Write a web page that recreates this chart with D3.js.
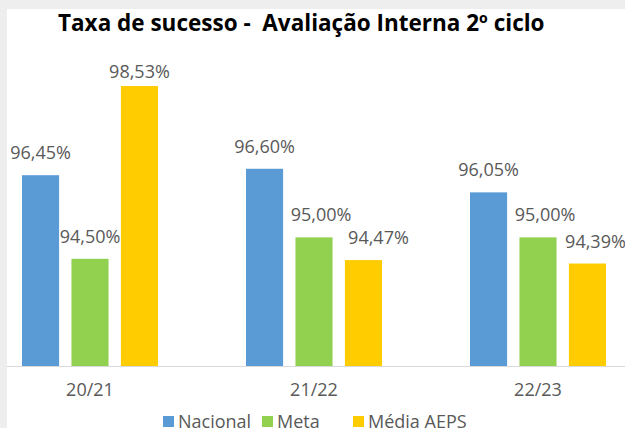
<!DOCTYPE html>
<html>
<head>
<meta charset="utf-8">
<script src="https://cdn.jsdelivr.net/npm/d3@7"></script>
<style>
  body { margin: 0; background: #fff; }
  svg { display: block; }
</style>
</head>
<body>
<div id="chart"></div>
<script>
const title = "Taxa de sucesso -  Avaliação Interna 2º ciclo";
const categories = ["20/21", "21/22", "22/23"];
const seriesNames = ["Nacional", "Meta", "Média AEPS"];
const nacional = [96.45, 96.60, 96.05];
const meta = [94.50, 95.00, 95.00];
const mediaAeps = [98.53, 94.47, 94.39];
const colors = ["#5B9BD5", "#92D050", "#FFCC00"];

const width = 625, height = 428;
const font = "'Open Sans', sans-serif";

// small sideways nudges of the value labels, as Excel did to avoid overlaps
const labelNudge = [[0, 0, 0], [0, 7, 15], [0, 7, 8]];

const svg = d3.select("#chart").append("svg")
  .attr("width", width).attr("height", height)
  .style("font-family", font);

// frame: light gray edges like the cropped screenshot
svg.append("rect").attr("width", width).attr("height", height).attr("fill", "#eeeeee");
svg.append("rect").attr("x", 7).attr("y", 9).attr("width", width - 7).attr("height", height - 9).attr("fill", "#fff");

const data = categories.map((c, i) => ({
  cat: c,
  values: [nacional[i], meta[i], mediaAeps[i]]
}));

const x0 = d3.scaleBand().domain(categories).range([-22, 650]).padding(0);
const groupW = 136;
const x1 = d3.scaleBand().domain(d3.range(seriesNames.length))
  .range([0, groupW]).paddingInner(0.25);
const y = d3.scaleLinear().domain([92, 100]).range([366, 23]);

const fmt = v => d3.format(".2f")(v).replace(".", ",") + "%";

svg.append("text")
  .attr("x", 58).attr("y", 31)
  .attr("font-weight", "bold")
  .attr("font-size", 22.5)
  .attr("fill", "#000")
  .style("white-space", "pre")
  .text(title);

const groups = svg.append("g").selectAll("g")
  .data(data).join("g")
  .attr("transform", d => `translate(${x0(d.cat) + (x0.bandwidth() - groupW) / 2},0)`);

groups.selectAll("rect")
  .data(d => d.values.map((v, k) => ({ v, k })))
  .join("rect")
  .attr("x", d => x1(d.k))
  .attr("y", d => y(d.v))
  .attr("width", x1.bandwidth())
  .attr("height", d => y(92) - y(d.v))
  .attr("fill", d => colors[d.k]);

groups.selectAll("text")
  .data((d, i) => d.values.map((v, k) => ({ v, k, i })))
  .join("text")
  .attr("x", d => x1(d.k) + x1.bandwidth() / 2 + labelNudge[d.i][d.k])
  .attr("y", d => Math.max(y(d.v) - 16, 78))
  .attr("text-anchor", "middle")
  .attr("font-size", 18)
  .attr("fill", "#595959")
  .text(d => fmt(d.v));

// category axis
const xAxis = svg.append("g")
  .attr("transform", "translate(0,366)")
  .call(d3.axisBottom(x0).tickSize(0).tickPadding(17));
xAxis.select(".domain").attr("stroke", "#d9d9d9").attr("d", "M7,0.5H625");
xAxis.selectAll("text")
  .attr("font-size", 18)
  .attr("font-family", font)
  .attr("fill", "#595959");

// legend
const legendX = [163, 262, 353];
const legend = svg.append("g").selectAll("g")
  .data(seriesNames).join("g")
  .attr("transform", (d, i) => `translate(${legendX[i]},0)`);
legend.append("rect")
  .attr("x", 0).attr("y", 416)
  .attr("width", 11).attr("height", 11)
  .attr("fill", (d, i) => colors[i]);
legend.append("text")
  .attr("x", 15).attr("y", 428)
  .attr("font-size", 18)
  .attr("fill", "#595959")
  .text(d => d);
</script>
</body>
</html>
